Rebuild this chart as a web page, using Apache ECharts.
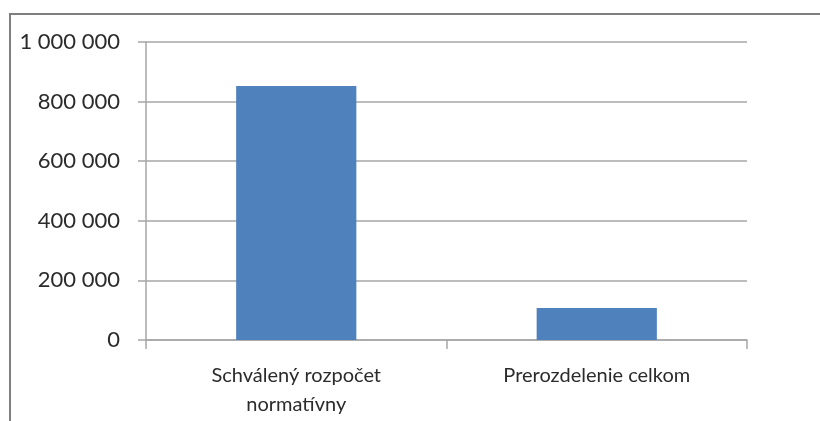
<!DOCTYPE html>
<html>
<head>
<meta charset="utf-8">
<script src="https://cdn.jsdelivr.net/npm/echarts@6/dist/echarts.min.js"></script>
<style>
  html, body { margin: 0; padding: 0; background: #fff; }
  #chart { width: 820px; height: 421px; }
</style>
</head>
<body>
<div id="chart"></div>
<script>
const categories = ['Schválený rozpočet\nnormatívny', 'Prerozdelenie celkom']
const values = [852000, 107000]
const yTicks = { min: 0, max: 1000000, interval: 200000 }

const gridColor = '#a6a6a6'
// thousands separated by a space, as in the source chart
const fmt = v => String(v).replace(/\B(?=(\d{3})+(?!\d))/g, ' ')

const chart = echarts.init(document.getElementById('chart'))
chart.setOption({
  animation: false,
  textStyle: { fontFamily: 'Lato' },
  graphic: [
    {
      type: 'rect',
      shape: { x: 10, y: 14, width: 900, height: 600 },
      style: { fill: 'none', stroke: '#7f7f7f', lineWidth: 2 }
    }
  ],
  grid: { left: 146, right: 73, top: 42, bottom: 81 },
  xAxis: {
    type: 'category',
    data: categories,
    axisLine: { lineStyle: { color: gridColor, width: 1.5 } },
    axisTick: { show: true, length: 9, lineStyle: { color: gridColor, width: 1.5 } },
    axisLabel: { color: '#2b2b2b', fontSize: 20, lineHeight: 29, margin: 21, interval: 0 }
  },
  yAxis: {
    type: 'value',
    min: yTicks.min,
    max: yTicks.max,
    interval: yTicks.interval,
    axisLine: { show: true, lineStyle: { color: gridColor, width: 1.5 } },
    axisTick: { show: true, length: 8, lineStyle: { color: gridColor, width: 1.5 } },
    splitLine: { lineStyle: { color: gridColor, width: 1.5 } },
    axisLabel: { color: '#2b2b2b', fontSize: 22, margin: 26, formatter: fmt }
  },
  series: [
    {
      type: 'bar',
      data: values,
      barWidth: '40%',
      itemStyle: { color: '#4f81bd' }
    }
  ]
})
</script>
</body>
</html>
